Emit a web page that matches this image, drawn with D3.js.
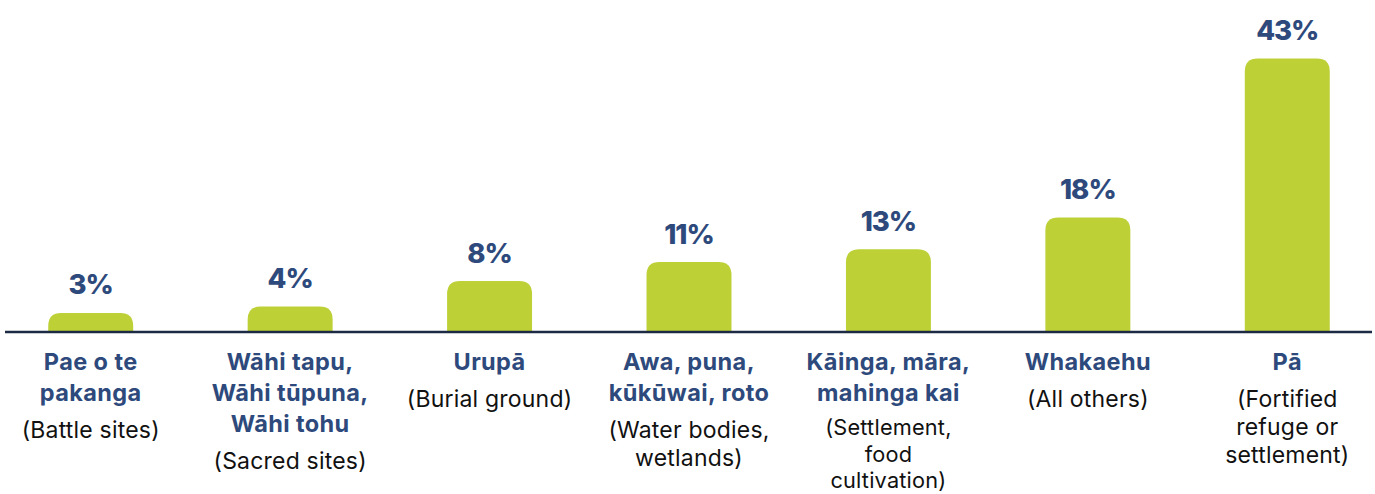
<!DOCTYPE html>
<html>
<head>
<meta charset="utf-8">
<script src="https://cdn.jsdelivr.net/npm/d3@7"></script>
<style>
  html, body { margin: 0; padding: 0; background: #ffffff; }
  svg { display: block; }
</style>
</head>
<body>
<svg id="chart" width="1375" height="494"></svg>
<script>
// ---- data ----
const categories = ["Pae o te pakanga", "Wāhi tapu, Wāhi tūpuna, Wāhi tohu", "Urupā",
  "Awa, puna, kūkūwai, roto", "Kāinga, māra, mahinga kai", "Whakaehu", "Pā"];
const values = [3, 4, 8, 11, 13, 18, 43];
const titleLines = [
  ["Pae o te", "pakanga"],
  ["Wāhi tapu,", "Wāhi tūpuna,", "Wāhi tohu"],
  ["Urupā"],
  ["Awa, puna,", "kūkūwai, roto"],
  ["Kāinga, māra,", "mahinga kai"],
  ["Whakaehu"],
  ["Pā"]
];
const subtitleLines = [
  ["(Battle sites)"],
  ["(Sacred sites)"],
  ["(Burial ground)"],
  ["(Water bodies,", "wetlands)"],
  ["(Settlement,", "food", "cultivation)"],
  ["(All others)"],
  ["(Fortified", "refuge or", "settlement)"]
];

// ---- layout ----
const W = 1375, H = 494;
const baseY = 332;
const svg = d3.select("#chart");
const font = "Inter, 'Open Sans', Roboto, sans-serif";
const navy = "#2e4a7c";
const green = "#bdd036";

const x = d3.scaleBand().domain(categories).range([-9, 1387])
  .paddingInner(0.574).paddingOuter(0.287);
const y = d3.scaleLinear().domain([0, 43]).range([baseY, 58.5]);

const r = 13;
function topRounded(x0, y0, w, h, rad) {
  const rr = Math.min(rad, h, w / 2);
  return `M${x0},${y0 + h} L${x0},${y0 + rr} Q${x0},${y0} ${x0 + rr},${y0} ` +
    `L${x0 + w - rr},${y0} Q${x0 + w},${y0} ${x0 + w},${y0 + rr} L${x0 + w},${y0 + h} Z`;
}

const data = categories.map((c, i) => ({ c, v: values[i], t: titleLines[i], s: subtitleLines[i] }));

svg.selectAll("path.bar").data(data).enter().append("path")
  .attr("class", "bar")
  .attr("fill", green)
  .attr("d", d => topRounded(x(d.c), y(d.v), x.bandwidth(), baseY - y(d.v), r));

// axis baseline
svg.append("line")
  .attr("x1", 5).attr("x2", 1372)
  .attr("y1", baseY).attr("y2", baseY)
  .attr("stroke", "#1c2a44").attr("stroke-width", 2.5);

// value labels
svg.selectAll("text.val").data(data).enter().append("text")
  .attr("class", "val")
  .attr("x", d => x(d.c) + x.bandwidth() / 2)
  .attr("y", d => y(d.v) - 18.5)
  .attr("text-anchor", "middle")
  .attr("font-family", font)
  .attr("font-weight", 800)
  .attr("font-size", 27.5)
  .attr("letter-spacing", -1)
  .attr("fill", navy)
  .text(d => d.v + "%");

// category labels
const g = svg.selectAll("g.cat").data(data).enter().append("g")
  .attr("class", "cat")
  .attr("transform", d => `translate(${x(d.c) + x.bandwidth() / 2},0)`);

g.each(function (d) {
  const sel = d3.select(this);
  const t0 = 370, tStep = 31;
  d.t.forEach((line, j) => {
    sel.append("text")
      .attr("x", 0).attr("y", t0 + j * tStep)
      .attr("text-anchor", "middle")
      .attr("font-family", font)
      .attr("font-weight", 700)
      .attr("font-size", 23.5)
      .attr("letter-spacing", 0.4)
      .attr("fill", navy)
      .text(line);
  });
  const lastT = t0 + (d.t.length - 1) * tStep;
  let gap = 37, sStep = 28, fs = 23;
  const n = d.s.length;
  const maxY = 488;
  if (n > 1 && lastT + gap + (n - 1) * sStep > maxY) {
    gap = 34;
    sStep = (maxY - lastT - gap) / (n - 1);
    fs = Math.min(23, sStep / 1.22);
  }
  d.s.forEach((line, j) => {
    sel.append("text")
      .attr("x", 0).attr("y", lastT + gap + j * sStep)
      .attr("text-anchor", "middle")
      .attr("font-family", font)
      .attr("font-weight", 400)
      .attr("font-size", fs)
      .attr("letter-spacing", 0.2)
      .attr("fill", "#111111")
      .text(line);
  });
});
</script>
</body>
</html>
